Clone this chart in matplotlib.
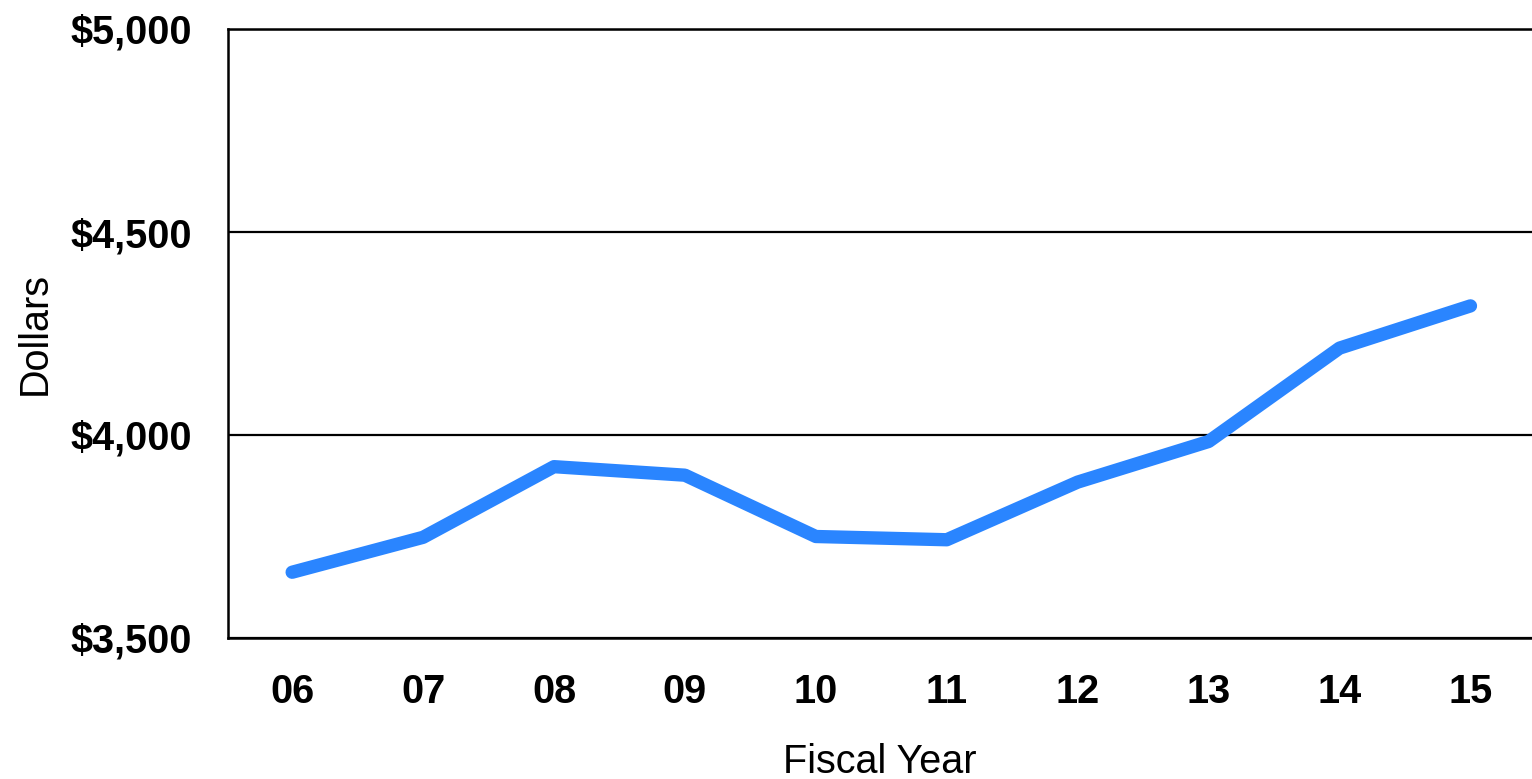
import matplotlib
matplotlib.use("Agg")
import matplotlib.pyplot as plt
from matplotlib.ticker import FuncFormatter

years = ["06", "07", "08", "09", "10", "11", "12", "13", "14", "15"]
dollars = [3662, 3748, 3922, 3901, 3750, 3742, 3884, 3984, 4214, 4318]
y_ticks = [3500, 4000, 4500, 5000]

plt.rcParams['font.family'] = ['Liberation Sans', 'DejaVu Sans']

fig = plt.figure(figsize=(15.32, 7.79), dpi=100)
ax = fig.add_axes([228/1532, 141/779, 1 - 228/1532, (638-29)/779])

x = list(range(len(years)))
ax.plot(x, dollars, color="#2a85ff", lw=9.6, solid_capstyle="round",
        solid_joinstyle="round", zorder=3)

ax.set_xlim(-0.49, 9.47)
ax.set_ylim(3500, 5000)
ax.set_yticks(y_ticks)
ax.yaxis.set_major_formatter(FuncFormatter(lambda v, p: f"${v:,.0f}"))
ax.set_xticks(x)
ax.set_xticklabels(years)
ax.grid(axis="y", color="black", lw=1.6, zorder=1)
ax.set_axisbelow(True)

ax.spines["right"].set_visible(False)
for s in ["left", "bottom", "top"]:
    ax.spines[s].set_linewidth(1.8)
    ax.spines[s].set_color("black")

ax.tick_params(axis="both", length=0, labelsize=28.5)
ax.tick_params(axis="y", pad=26)
ax.tick_params(axis="x", pad=25)
for lab in ax.get_xticklabels() + ax.get_yticklabels():
    lab.set_fontweight("bold")

ax.set_xlabel("Fiscal Year", fontsize=28.5, labelpad=23)
ax.set_ylabel("Dollars", fontsize=28.5, labelpad=12)

fig.savefig("out.png", dpi=100)
